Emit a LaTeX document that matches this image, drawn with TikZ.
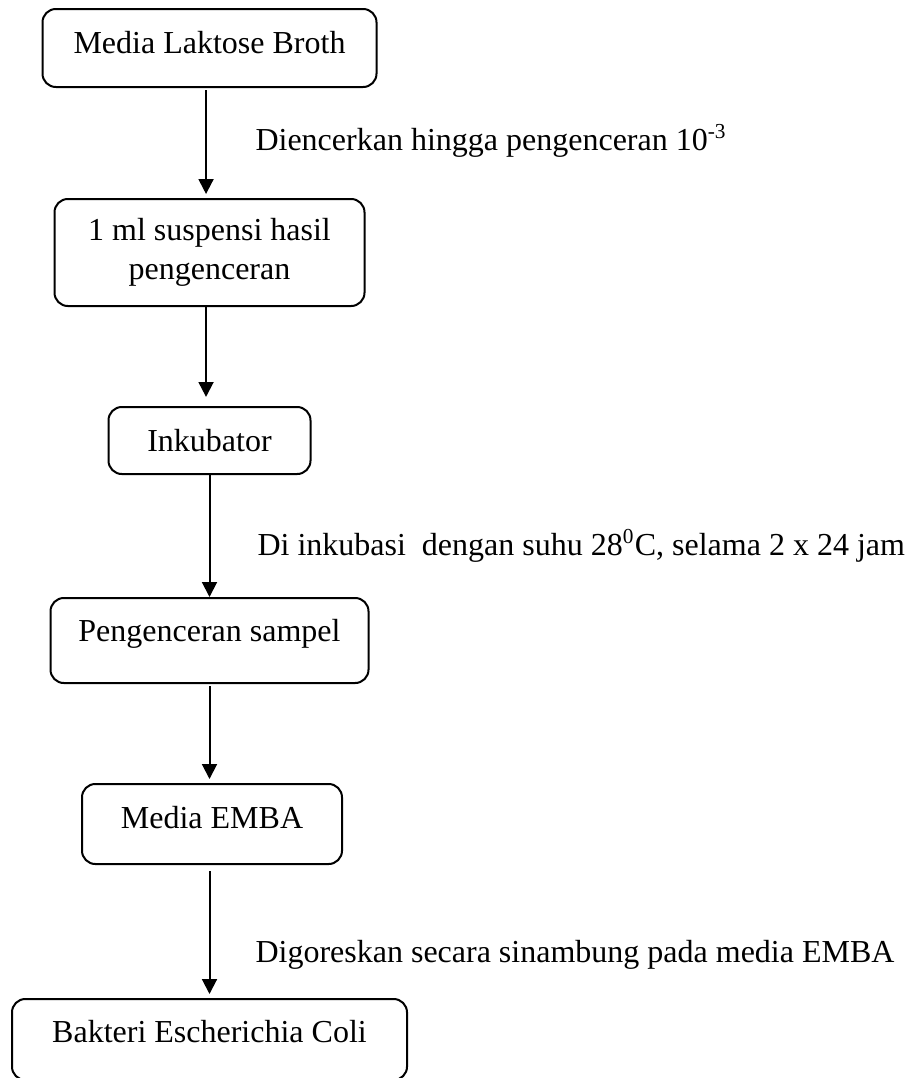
\documentclass[tikz,border=0pt]{standalone}
\usepackage{fontspec}
\setmainfont{Liberation Serif}
\usetikzlibrary{arrows.meta}

\tikzset{
  box/.style={draw, line width=0.75pt, rounded corners=5pt},
  note/.style={anchor=base west, inner sep=0pt},
}

\begin{document}
\begin{tikzpicture}[x=0.375pt, y=-0.375pt, font=\fontsize{12}{14.6}\selectfont]
    \useasboundingbox (0,0) rectangle (908,1078);
    %% Draw the nodes
    \node[box, minimum width=125.25pt, minimum height=29.25pt, text height=8pt, text depth=4.25pt] (Laktose) at (209.5,48) {Media Laktose Broth};
    \node[box, minimum width=116.25pt, minimum height=40.125pt, align=center] (Suspensi) at (209.5,252.5) {1 ml suspensi hasil\\pengenceran};
    \node[box, minimum width=75.75pt, minimum height=25.125pt, text height=8pt, text depth=0pt] (Inkubator) at (209.5,440.5) {Inkubator};
    \node[box, minimum width=119.25pt, minimum height=31.875pt, text height=8pt, text depth=6.9pt] (Sampel) at (209.5,640.5) {Pengenceran sampel};
    \node[box, minimum width=97.5pt, minimum height=30pt, text height=8pt, text depth=5pt] (EMBA) at (212,824) {Media EMBA};
    \node[box, minimum width=148.125pt, minimum height=30.375pt, text height=8pt, text depth=5.4pt] (Coli) at (209.5,1039.5) {Bakteri Escherichia Coli};
    %% Draw the step texts
    \node[note] (Encer) at (255,150) {Diencerkan hingga pengenceran 10\textsuperscript{-3}};
    \node[note] (Inkubasi) at (257,555) {Di inkubasi\ \ dengan suhu 28\textsuperscript{0}C, selama 2 x 24 jam};
    \node[note] (Gores) at (255,962) {Digoreskan secara sinambung pada media EMBA};
    %% Draw the edges
    \begin{scope}[every path/.style={-{Triangle[length=5.6pt,width=5.6pt]}, line width=0.75pt}]
      \draw[shorten <=0.75pt, shorten >=1.5pt] ([xshift=-1.3pt]Laktose.south) -- ([xshift=-1.3pt]Suspensi.north);
      \draw[shorten >=3.4pt] ([xshift=-1.3pt]Suspensi.south) -- ([xshift=-1.3pt]Inkubator.north);
      \draw (Inkubator.south) -- (Sampel.north);
      \draw[shorten <=0.75pt, shorten >=1.5pt] (Sampel.south) -- (Sampel.south |- EMBA.north);
      \draw[shorten <=2.25pt, shorten >=1.5pt] (Coli.north |- EMBA.south) -- (Coli.north);
    \end{scope}
  \end{tikzpicture}
\end{document}
